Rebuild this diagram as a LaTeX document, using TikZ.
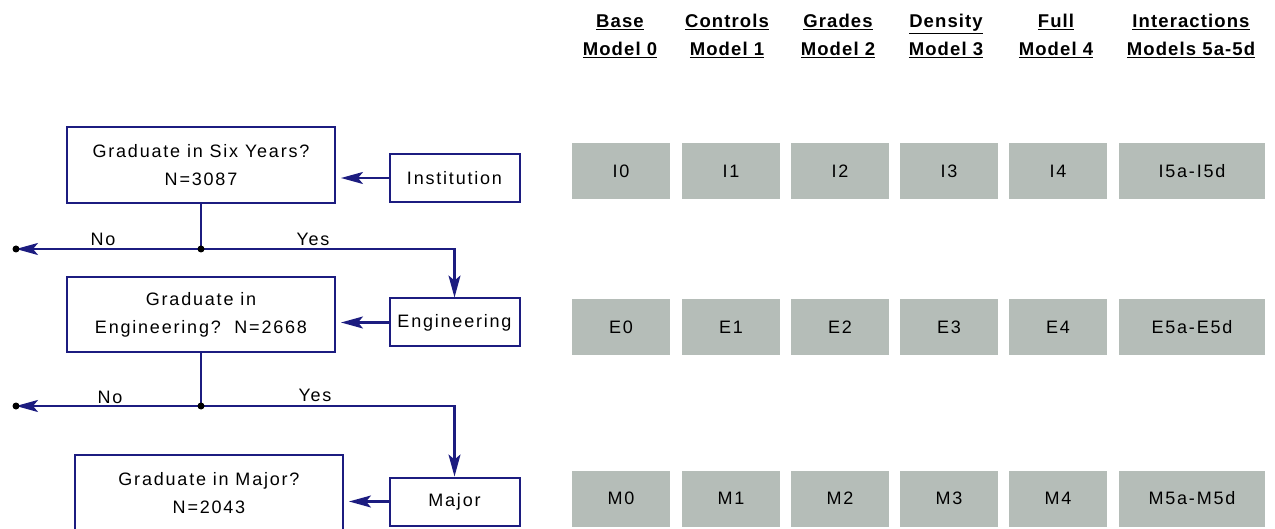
\documentclass[tikz,border=0pt]{standalone}
\usepackage{fontspec}
\setmainfont{Liberation Sans}[LetterSpace=10]
\newfontfamily\headfont{Liberation Sans}[LetterSpace=6]
\usetikzlibrary{arrows.meta}
\definecolor{navy}{RGB}{28,28,128}
\definecolor{modelgray}{RGB}{181,189,184}

\begin{document}
\begin{tikzpicture}[x=1pt,y=-1pt,font=\fontsize{18}{28}\selectfont]
      \useasboundingbox (0,0) rectangle (1275,529);

      \begin{scope}[every node/.style={draw=navy,line width=2pt,align=center,minimum width=268pt}]
        \node (six)   at (201,165)   [minimum height=76pt] {Graduate in Six Years?\\N=3087};
        \node (engq)  at (201,314.5) [minimum height=75pt] {Graduate in\\Engineering?\ \ N=2668};
        \node (major) at (209,493)   [minimum height=76pt] {Graduate in Major?\\N=2043};
      \end{scope}

      \begin{scope}[every node/.style={draw=navy,line width=2pt,minimum width=130pt,minimum height=48pt}]
        \node (inst) at (454.5,178)   {Institution};
        \node (eng)  at (454.5,322.5) {Engineering};
        \node (maj)  at (454.5,501.5) {Major};
      \end{scope}

      \coordinate (j1) at (201,249);
      \coordinate (n1) at (16,249);
      \coordinate (j2) at (201,406);
      \coordinate (n2) at (16,406);

      \begin{scope}[draw=navy,line width=2.2pt,>={Stealth[length=22pt,width=12pt,inset=5pt]}]
        \draw[->,shorten >=5pt] (inst.west) -- (six.east |- inst.west);
        \draw[->,shorten >=5pt] (eng.west) -- (engq.east |- eng.west);
        \draw[->,shorten >=5pt] (maj.west) -- (major.east |- maj.west);
        \draw (six) -- (j1);
        \draw[->] (j1) -- (n1);
        \draw[->] (j1) -| (eng);
        \draw (engq) -- (j2);
        \draw[->] (j2) -- (n2);
        \draw[->] (j2) -| (maj);
        \fill[black] (j1) circle (3.5pt) (n1) circle (3.5pt) (j2) circle (3.5pt) (n2) circle (3.5pt);
      \end{scope}

      \node (no1)  at (103,239) {No};
      \node (yes1) at (313,239) {Yes};
      \node (no2)  at (110,397) {No};
      \node (yes2) at (315,395) {Yes};

      \begin{scope}[every node/.style={fill=modelgray,minimum width=98pt,minimum height=56pt}]
        \node (i0) at (621,171)  {I0};
        \node (i1) at (731,171)  {I1};
        \node (i2) at (840,171)  {I2};
        \node (i3) at (949,171)  {I3};
        \node (i4) at (1058,171) {I4};
        \node (i5) at (1192,171) [minimum width=146pt] {I5a-I5d};
        \node (e0) at (621,327.5)  {E0};
        \node (e1) at (731,327.5)  {E1};
        \node (e2) at (840,327.5)  {E2};
        \node (e3) at (949,327.5)  {E3};
        \node (e4) at (1058,327.5) {E4};
        \node (e5) at (1192,327.5) [minimum width=146pt] {E5a-E5d};
        \node (m0) at (621,498.5)  {M0};
        \node (m1) at (731,498.5)  {M1};
        \node (m2) at (840,498.5)  {M2};
        \node (m3) at (949,498.5)  {M3};
        \node (m4) at (1058,498.5) {M4};
        \node (m5) at (1192,498.5) [minimum width=146pt] {M5a-M5d};
      \end{scope}

      \begin{scope}[every node/.style={align=center,font=\headfont\fontsize{18.5}{28}\selectfont\bfseries}]
        \node (h0) at (620,36)  {\underline{Base}\\\underline{Model 0}};
        \node (h1) at (727,36)  {\underline{Controls}\\\underline{Model 1}};
        \node (h2) at (838,36)  {\underline{Grades}\\\underline{Model 2}};
        \node (h3) at (946,36)  {\underline{Density}\\\underline{Model 3}};
        \node (h4) at (1056,36) {\underline{Full}\\\underline{Model 4}};
        \node (h5) at (1191,36) {\underline{Interactions}\\\underline{Models 5a-5d}};
      \end{scope}

    \end{tikzpicture}
\end{document}
